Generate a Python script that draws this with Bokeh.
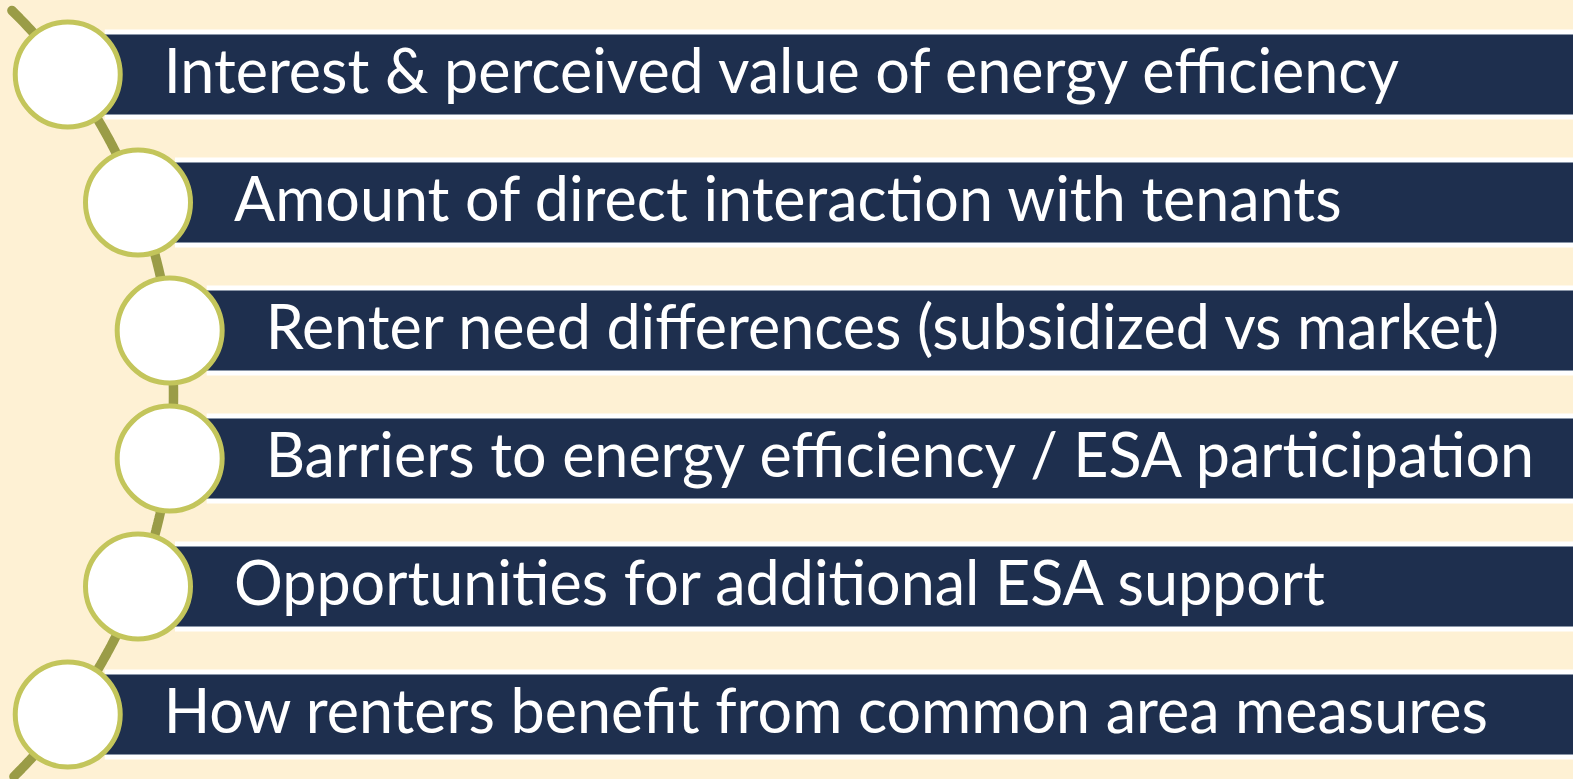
import numpy as np
from bokeh.plotting import figure
from bokeh.models import Range1d, ColumnDataSource
from bokeh.core.properties import value
from bokeh.embed import file_html
from bokeh.resources import INLINE

# ---- content ----
labels = [
    "Interest & perceived value of energy efficiency",
    "Amount of direct interaction with tenants",
    "Renter need differences (subsidized vs market)",
    "Barriers to energy efficiency / ESA participation",
    "Opportunities for additional ESA support",
    "How renters benefit from common area measures",
]
rows = [0, 1, 2, 3, 4, 5]

# ---- colours ----
BG = "#FEF1D4"
NAVY = "#1E2F4E"
EDGE = "#8A96A8"
RING = "#C3C55B"
SPINE = "#9A9C47"

# ---- layout (reference pixel coordinates) ----
ROW0, ROW_STEP = 74, 128
ARC_CX, ARC_CY, ARC_R = -364.0, 394.0, 537.0
W, H = 1573, 779

ys = ROW0 + ROW_STEP * np.array(rows, dtype=float)
cxs = ARC_CX + np.sqrt(ARC_R**2 - (ys - ARC_CY) ** 2)

src = ColumnDataSource(dict(
    y=ys, cx=cxs, left=cxs + 37, right=np.full(len(ys), 1700.0),
    tx=cxs + 96, ty=ys - 5, label=labels,
))

p = figure(width=W, height=H, x_range=Range1d(0, W), y_range=Range1d(H, 0),
           output_backend="svg", toolbar_location=None, x_axis_type=None, y_axis_type=None,
           min_border=0, background_fill_color=BG, border_fill_color=BG, outline_line_color=None)

# spine arc
sy = np.linspace(10, 776, 200)
sx = ARC_CX + np.sqrt(ARC_R**2 - (sy - ARC_CY) ** 2)
p.line(sx, sy, line_color=SPINE, line_width=9.5, line_cap="round")

# bars: white band + navy bar
p.hbar(y="y", left="left", right="right", height=90, source=src, fill_color="white", line_color=None)
p.hbar(y="y", left="left", right="right", height=80, source=src, fill_color=NAVY,
       line_color=EDGE, line_width=1)

# circles
p.scatter(x="cx", y="y", source=src, marker="circle", size=105, fill_color="white",
          line_color=RING, line_width=5)

# labels
p.text(x="tx", y="ty", text="label", source=src, text_color="white",
       text_font=value("Lato"), text_font_size="61px", text_baseline="middle",
       text_align="left")

template = """
{% block postamble %}
<style>html, body { background: #FEF1D4; }</style>
{% endblock %}
"""
open("out.html", "w").write(file_html(p, INLINE, "chart", template=template))
